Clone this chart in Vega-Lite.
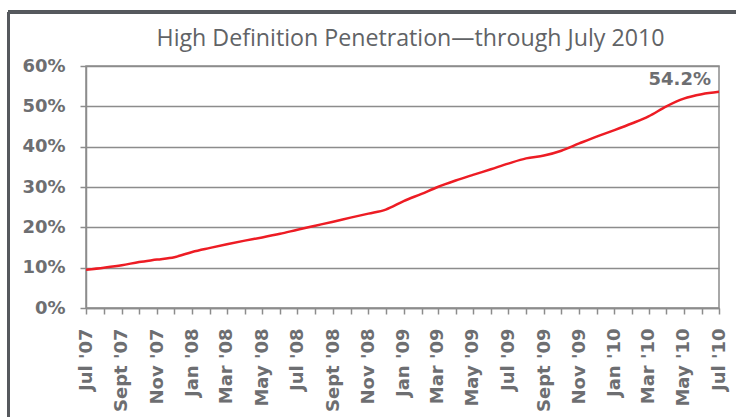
{
  "$schema": "https://vega.github.io/schema/vega-lite/v6.json",
  "autosize": "none",
  "width": 633,
  "height": 242,
  "padding": {"left": 86, "top": 66, "right": 17, "bottom": 109},
  "background": "white",
  "title": {
    "text": "High Definition Penetration—through July 2010",
    "font": "Open Sans",
    "fontSize": 23.2,
    "fontWeight": "normal",
    "color": "#616366",
    "anchor": "middle",
    "frame": "group",
    "baseline": "alphabetic",
    "offset": -16,
    "dy": 42,
    "dx": 8
  },
  "data": {
    "values": [
      {"date": "2007-07-01", "hd": 9.5},
      {"date": "2007-08-01", "hd": 10.0},
      {"date": "2007-09-01", "hd": 10.6},
      {"date": "2007-10-01", "hd": 11.4},
      {"date": "2007-11-01", "hd": 12.0},
      {"date": "2007-12-01", "hd": 12.6},
      {"date": "2008-01-01", "hd": 13.9},
      {"date": "2008-02-01", "hd": 14.9},
      {"date": "2008-03-01", "hd": 15.8},
      {"date": "2008-04-01", "hd": 16.7},
      {"date": "2008-05-01", "hd": 17.5},
      {"date": "2008-06-01", "hd": 18.4},
      {"date": "2008-07-01", "hd": 19.4},
      {"date": "2008-08-01", "hd": 20.4},
      {"date": "2008-09-01", "hd": 21.4},
      {"date": "2008-10-01", "hd": 22.4},
      {"date": "2008-11-01", "hd": 23.4},
      {"date": "2008-12-01", "hd": 24.4},
      {"date": "2009-01-01", "hd": 26.5},
      {"date": "2009-02-01", "hd": 28.3},
      {"date": "2009-03-01", "hd": 30.0},
      {"date": "2009-04-01", "hd": 31.6},
      {"date": "2009-05-01", "hd": 33.0},
      {"date": "2009-06-01", "hd": 34.4},
      {"date": "2009-07-01", "hd": 35.8},
      {"date": "2009-08-01", "hd": 37.1},
      {"date": "2009-09-01", "hd": 37.8},
      {"date": "2009-10-01", "hd": 39.0},
      {"date": "2009-11-01", "hd": 40.8},
      {"date": "2009-12-01", "hd": 42.5},
      {"date": "2010-01-01", "hd": 44.1},
      {"date": "2010-02-01", "hd": 45.8},
      {"date": "2010-03-01", "hd": 47.5},
      {"date": "2010-04-01", "hd": 50.0},
      {"date": "2010-05-01", "hd": 51.9},
      {"date": "2010-06-01", "hd": 53.0},
      {"date": "2010-07-01", "hd": 53.6, "label": "54.2%"}
    ]
  },
  "encoding": {
    "x": {
      "field": "date",
      "type": "temporal",
      "scale": {"type": "utc", "domain": ["2007-07-01", "2010-07-01"], "nice": false},
      "axis": {
        "title": null,
        "tickCount": {"interval": "month", "step": 1},
        "labelExpr": "utcmonth(datum.value) % 2 == 0 ? ['Jan','Feb','Mar','Apr','May','Jun','Jul','Aug','Sept','Oct','Nov','Dec'][utcmonth(datum.value)] + \" '\" + utcFormat(datum.value, '%y') : ''",
        "labelAngle": -90,
        "labelAlign": "right",
        "labelBaseline": "middle",
        "labelPadding": 14,
        "labelOverlap": false,
        "labelBound": false,
        "labelFlush": false,
        "labelFont": "DejaVu Sans",
        "labelFontWeight": "bold",
        "labelFontSize": 18,
        "labelColor": "#6d6e71",
        "grid": false,
        "tickSize": 6,
        "tickColor": "#8c8c8c",
        "tickWidth": 1.5,
        "domainColor": "#8c8c8c",
        "domainWidth": 1.5
      }
    },
    "y": {
      "field": "hd",
      "type": "quantitative",
      "scale": {"domain": [0, 60], "nice": false},
      "axis": {
        "title": null,
        "values": [0, 10, 20, 30, 40, 50, 60],
        "labelExpr": "datum.value + '%'",
        "labelFont": "DejaVu Sans",
        "labelFontWeight": "bold",
        "labelFontSize": 18,
        "labelColor": "#6d6e71",
        "labelPadding": 15,
        "tickSize": 6,
        "tickColor": "#8c8c8c",
        "tickWidth": 1.5,
        "domainColor": "#8c8c8c",
        "domainWidth": 1.5,
        "grid": true,
        "gridColor": "#8c8c8c",
        "gridWidth": 1.5,
        "gridOpacity": 1
      }
    }
  },
  "layer": [
    {
      "mark": {"type": "line", "color": "#ed1c24", "strokeWidth": 2.5, "interpolate": "monotone", "clip": false}
    },
    {
      "transform": [{"filter": "datum.label"}],
      "mark": {"type": "text", "align": "right", "baseline": "middle", "dx": -8, "dy": -12, "font": "DejaVu Sans", "fontWeight": "bold", "fontSize": 18, "color": "#6d6e71"},
      "encoding": {"text": {"field": "label"}}
    },
    {
      "mark": {"type": "rule", "color": "#56595e", "strokeWidth": 2.5, "clip": false},
      "encoding": {
        "x": {"datum": {"year": 2007, "month": 2, "date": 17, "utc": true}, "type": "temporal"},
        "x2": {"datum": {"year": 2010, "month": 9, "date": 1, "utc": true}},
        "y": {"datum": 73.4, "type": "quantitative"}
      }
    },
    {
      "mark": {"type": "rule", "color": "#56595e", "strokeWidth": 2.5, "clip": false},
      "encoding": {
        "x": {"datum": {"year": 2007, "month": 2, "date": 17, "utc": true}, "type": "temporal"},
        "y": {"datum": 73.4, "type": "quantitative"},
        "y2": {"datum": -30}
      }
    }
  ],
  "config": {
    "view": {"stroke": "#8c8c8c", "strokeWidth": 1.5}
  }
}
